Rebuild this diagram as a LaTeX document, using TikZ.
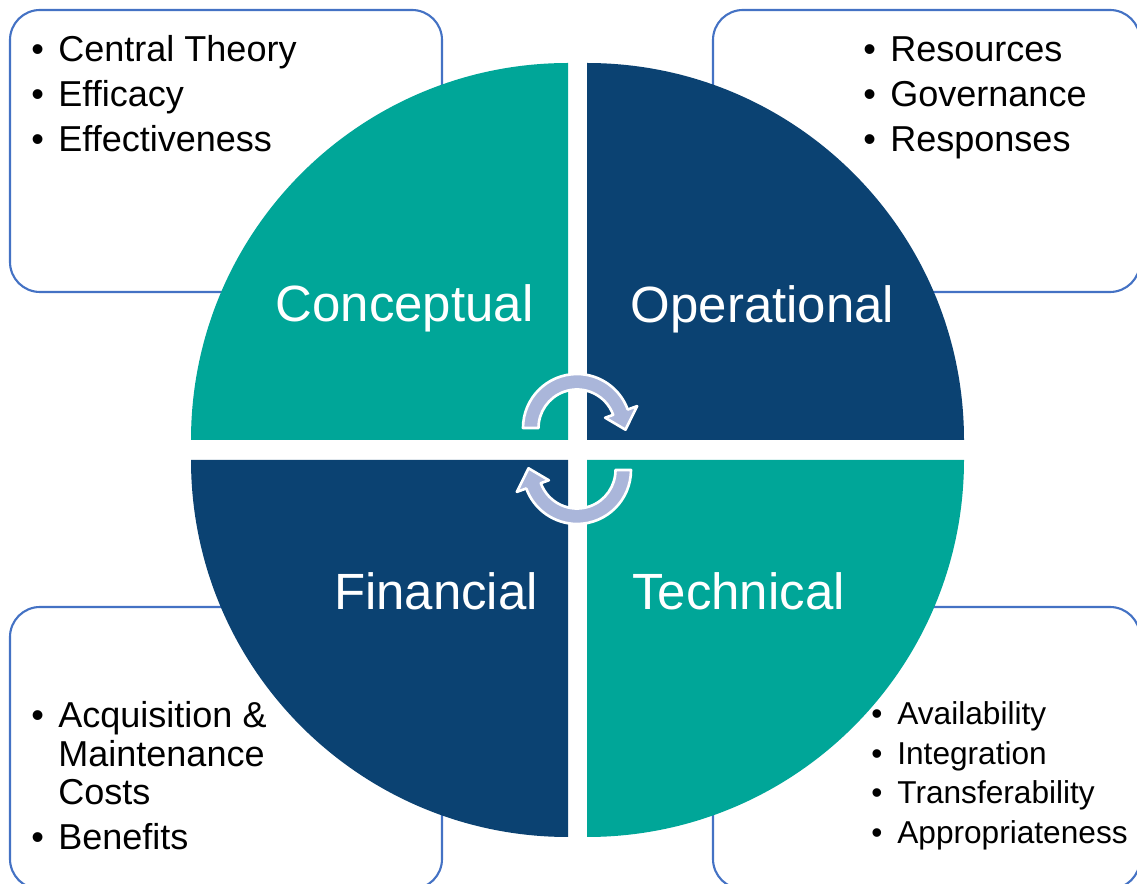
\documentclass[tikz,border=0pt]{standalone}
\usepackage{fontspec}
\setmainfont{Liberation Sans}
\usepackage{xcolor}
\usetikzlibrary{positioning,calc}

\definecolor{quadteal}{RGB}{0,166,152}
\definecolor{quadnavy}{RGB}{11,66,114}
\definecolor{boxblue}{RGB}{68,114,196}
\definecolor{cyclefill}{RGB}{170,182,218}

\newcommand{\bul}{\makebox[0.54cm][l]{\textbullet}}
\newcommand{\bulsmall}{\makebox[0.52cm][l]{\textbullet}}

\begin{document}
\begin{tikzpicture}[
    listbox/.style={draw=boxblue, line width=1.2pt, rounded corners=0.6cm, fill=white},
    itemlist/.style={anchor=base west, inner sep=0pt, align=left, font=\fontsize{20.5}{21.9}\selectfont},
    quadlabel/.style={anchor=base, inner sep=0pt, text=white, font=\fontsize{29}{34}\selectfont},
    cyc/.style={fill=cyclefill, draw=white, line width=1.5pt, line join=round}
]
\useasboundingbox (0,0) rectangle (22.74,17.66);

% Corner boxes
\draw[listbox] (0.2,11.82) rectangle (8.84,17.46);
\draw[listbox] (14.26,11.82) rectangle (22.8,17.46);
\draw[listbox] (0.2,-0.12) rectangle (8.84,5.52);
\draw[listbox] (14.26,-0.12) rectangle (22.8,5.52);

% Quarter circles
\fill[quadteal] (11.36,8.86) -- ++(-7.54,0) arc[start angle=180, end angle=90, radius=7.54] -- cycle;
\fill[quadnavy] (11.74,8.86) -- ++(0,7.54) arc[start angle=90, end angle=0, radius=7.54] -- cycle;
\fill[quadteal] (11.74,8.46) -- ++(7.54,0) arc[start angle=0, end angle=-90, radius=7.54] -- cycle;
\fill[quadnavy] (11.36,8.46) -- ++(0,-7.54) arc[start angle=270, end angle=180, radius=7.54] -- cycle;

% Quadrant labels
\node[quadlabel] (conceptual) at (8.09,11.22) {Conceptual};
\node[quadlabel] (operational) at (15.25,11.20) {Operational};
\node[quadlabel] (financial) at (8.72,5.46) {Financial};
\node[quadlabel] (technical) at (14.77,5.46) {Technical};

% Cycle arrows
\begin{scope}[shift={(11.54,9.10)}]
\draw[cyc] (180:1.08) arc[start angle=180, end angle=20, radius=1.08] -- (20:1.28) -- (-2:0.97) -- (20:0.60) -- (20:0.77) arc[start angle=20, end angle=180, radius=0.77] -- cycle;
\end{scope}
\begin{scope}[shift={(11.54,8.26)}, rotate=180]
\draw[cyc] (180:1.08) arc[start angle=180, end angle=20, radius=1.08] -- (20:1.28) -- (-2:0.97) -- (20:0.60) -- (20:0.77) arc[start angle=20, end angle=180, radius=0.77] -- cycle;
\end{scope}

% Bullet lists
\node[itemlist] (conceptual_list) at (0.62,16.42) {\begin{tabular}[t]{@{}l@{}l@{}}
\bul & Central Theory\\[3.7pt]
\bul & Efficacy\\[3.7pt]
\bul & Effectiveness
\end{tabular}};
\node[itemlist] (operational_list) at (17.26,16.42) {\begin{tabular}[t]{@{}l@{}l@{}}
\bul & Resources\\[3.7pt]
\bul & Governance\\[3.7pt]
\bul & Responses
\end{tabular}};
\node[itemlist] (financial_list) at (0.62,3.10) {\begin{tabular}[t]{@{}l@{}l@{}}
\bul & Acquisition \&\\
 & Maintenance\\
 & Costs\\[3.7pt]
\bul & Benefits
\end{tabular}};
\node[itemlist, font=\fontsize{18}{22.4}\selectfont] (technical_list) at (17.42,3.16) {\begin{tabular}[t]{@{}l@{}l@{}}
\bulsmall & Availability\\
\bulsmall & Integration\\
\bulsmall & Transferability\\
\bulsmall & Appropriateness
\end{tabular}};

\end{tikzpicture}
\end{document}
